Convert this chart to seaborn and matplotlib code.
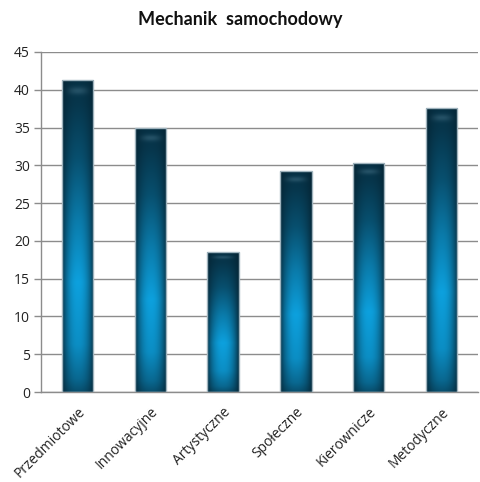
import numpy as np
import pandas as pd
import matplotlib
matplotlib.use("Agg")
import matplotlib.pyplot as plt
import matplotlib.transforms as mtransforms
import seaborn as sns

categories = ["Przedmiotowe", "Innowacyjne", "Artystyczne", "Społeczne", "Kierownicze", "Metodyczne"]
values = [41.3, 34.9, 18.5, 29.2, 30.3, 37.6]
yticks = [0, 5, 10, 15, 20, 25, 30, 35, 40, 45]

sns.set_theme(style="white")
plt.rcParams["font.family"] = ["Open Sans", "DejaVu Sans"]

df = pd.DataFrame({"kategoria": categories, "wartosc": values})

fig = plt.figure(figsize=(4.81, 4.82), dpi=100)
ax = fig.add_axes([41 / 481, 1 - 392 / 482, 437 / 481, 340 / 482])

sns.barplot(data=df, x="kategoria", y="wartosc", ax=ax, color="#1596cf",
            width=0.43, saturation=1, zorder=2)

ax.set_ylim(0, 45)
ax.set_xlim(-0.5, len(categories) - 0.5)
ax.set_yticks(yticks)
ax.yaxis.grid(True, color="#8c8c8c", linewidth=1.0, zorder=0)
ax.set_axisbelow(True)

# shaded fill for each bar: dark sides, bright lower-middle, dark top
dark = np.array([0.02, 0.14, 0.20])
bright = np.array([0.05, 0.63, 0.87])
nx, ny = 60, 200
s = np.linspace(0, 1, nx)
t = np.linspace(0, 1, ny)
h = 1 - 0.85 * np.abs(2 * s - 1) ** 2.2
v = np.interp(t, [0, 0.04, 0.15, 0.35, 0.55, 0.75, 0.92, 1.0],
              [0.35, 0.55, 0.85, 1.0, 0.7, 0.35, 0.15, 0.1])
shade = np.clip(v[:, None] * h[None, :], 0, 1)
img = dark + (bright - dark) * shade[..., None]
# thin highlight rim near the top
rim = np.exp(-((t - 0.965) / 0.012) ** 2)[:, None] * (h[None, :] ** 3)
img = np.clip(img + 0.12 * rim[..., None], 0, 1)

for patch in ax.patches:
    x0, y0 = patch.get_x(), patch.get_y()
    w, hgt = patch.get_width(), patch.get_height()
    im = ax.imshow(img, extent=[x0, x0 + w, y0, y0 + hgt], origin="lower",
                   aspect="auto", zorder=2.5, interpolation="bilinear")
    im.set_clip_path(patch)
    patch.set_edgecolor("#9fb3bd")
    patch.set_linewidth(1.0)
    patch.set_zorder(3)
    patch.set_facecolor("none")

ax.set_xlim(-0.5, len(categories) - 0.5)
ax.set_ylim(0, 45)

for side in ["top", "right"]:
    ax.spines[side].set_visible(False)
for side in ["left", "bottom"]:
    ax.spines[side].set_color("#8c8c8c")
    ax.spines[side].set_linewidth(1.0)

ax.set_xticks(np.arange(len(categories)))
ax.set_xticklabels(categories, rotation=45, ha="right", va="top",
                   rotation_mode="anchor", fontsize=10, color="#222222")
shift = mtransforms.ScaledTranslation(5 / 100, 0, fig.dpi_scale_trans)
for lbl in ax.get_xticklabels():
    lbl.set_transform(lbl.get_transform() + shift)
ax.tick_params(axis="x", length=0, pad=9)
ax.set_xticks(np.arange(len(categories) + 1) - 0.5, minor=True)
ax.tick_params(axis="x", which="minor", length=5, color="#8c8c8c", width=1)
ax.tick_params(axis="y", length=5, color="#8c8c8c", width=1, labelsize=10,
               labelcolor="#222222", left=True, pad=3)
ax.set_xlabel("")
ax.set_ylabel("")

fig.text(0.5, 1 - 20 / 482, "Mechanik  samochodowy", ha="center", va="center",
         fontsize=13, fontweight="bold", color="#111111", family="Lato")

fig.savefig("out.png", dpi=100)
